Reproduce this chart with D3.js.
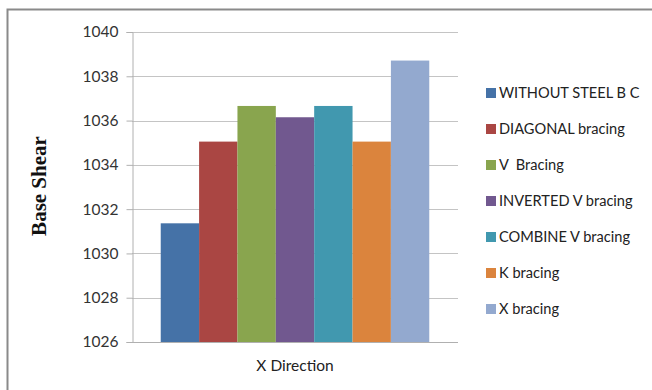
<!DOCTYPE html>
<html>
<head>
<meta charset="utf-8">
<script src="https://cdn.jsdelivr.net/npm/d3@7"></script>
<style>
  html, body { margin: 0; padding: 0; background: #fff; }
  svg { display: block; }
</style>
</head>
<body>
<svg id="chart" width="652" height="390"></svg>
<script>
// Base shear for each bracing system, X direction
const categories = ["X Direction"];
const seriesNames = [
  "WITHOUT STEEL B C",
  "DIAGONAL bracing",
  "V  Bracing",
  "INVERTED V bracing",
  "COMBINE V bracing",
  "K bracing",
  "X bracing"
];
const seriesValues = [1031.36, 1035.05, 1036.66, 1036.15, 1036.66, 1035.05, 1038.71];
const seriesColors = ["#4572A7", "#AA4643", "#89A54E", "#71588F", "#4198AF", "#DB843D", "#93A9CF"];
const yTicks = [1026, 1028, 1030, 1032, 1034, 1036, 1038, 1040];
const yTitle = "Base Shear";

const svg = d3.select("#chart");

// outer frame of the chart area
svg.append("rect")
  .attr("x", 7.5).attr("y", 9.5)
  .attr("width", 720).attr("height", 420)
  .attr("fill", "#fff")
  .attr("stroke", "#8a8a8a")
  .attr("stroke-width", 2);

const plot = { left: 132, right: 458, top: 32, bottom: 342 };

const y = d3.scaleLinear().domain([1026, 1040]).range([plot.bottom, plot.top]);
const x0 = d3.scaleBand().domain(categories).range([plot.left, plot.right])
  .paddingInner(0).paddingOuter(0.107);
const x1 = d3.scaleBand().domain(seriesNames).range([0, x0.bandwidth()]).padding(0);

// gridlines
svg.append("g")
  .selectAll("line")
  .data(yTicks.filter(t => t !== 1026))
  .join("line")
  .attr("x1", plot.left).attr("x2", plot.right)
  .attr("y1", d => Math.round(y(d)) + 0.5).attr("y2", d => Math.round(y(d)) + 0.5)
  .attr("stroke", "#c4c4c4").attr("stroke-width", 1);

// y axis
const yAxis = d3.axisLeft(y).tickValues(yTicks).tickSize(6).tickPadding(8)
  .tickFormat(d3.format("d"));
const gy = svg.append("g")
  .attr("transform", `translate(${plot.left + 0.5},0)`)
  .call(yAxis);
gy.select(".domain").attr("stroke", "#b0b0b0");
gy.selectAll(".tick line").attr("stroke", "#b0b0b0");
gy.selectAll(".tick text")
  .attr("fill", "#333")
  .style("font-family", "Lato, 'Open Sans', sans-serif")
  .style("font-size", "15.5px");

// bars
const groups = svg.append("g")
  .selectAll("g")
  .data(categories)
  .join("g")
  .attr("transform", d => `translate(${x0(d)},0)`);

groups.selectAll("rect")
  .data(() => seriesNames.map((name, i) => ({ name, value: seriesValues[i], color: seriesColors[i] })))
  .join("rect")
  .attr("x", d => x1(d.name))
  .attr("width", x1.bandwidth())
  .attr("y", d => y(d.value))
  .attr("height", d => y(1026) - y(d.value))
  .attr("fill", d => d.color);

// x axis baseline
svg.append("line")
  .attr("x1", plot.left).attr("x2", plot.right)
  .attr("y1", plot.bottom + 0.5).attr("y2", plot.bottom + 0.5)
  .attr("stroke", "#b0b0b0");

// category label
const xAxis = d3.axisBottom(x0).tickSize(0).tickPadding(18);
const gx = svg.append("g")
  .attr("transform", `translate(0,${plot.bottom})`)
  .call(xAxis);
gx.select(".domain").remove();
gx.selectAll(".tick text")
  .attr("fill", "#222")
  .style("font-family", "Lato, 'Open Sans', sans-serif")
  .style("font-size", "15.5px");

// y axis title
svg.append("text")
  .attr("transform", "translate(46,186) rotate(-90)")
  .attr("text-anchor", "middle")
  .style("font-family", "'Liberation Serif', 'Times New Roman', serif")
  .style("font-weight", "bold")
  .style("font-size", "21px")
  .attr("fill", "#111")
  .text(yTitle);

// legend
const legend = svg.append("g").attr("transform", "translate(486,93)");
const item = legend.selectAll("g")
  .data(seriesNames.map((name, i) => ({ name, color: seriesColors[i] })))
  .join("g")
  .attr("transform", (d, i) => `translate(0,${i * 36})`);
item.append("rect")
  .attr("x", 0).attr("y", -5)
  .attr("width", 10).attr("height", 10)
  .attr("fill", d => d.color);
item.append("text")
  .attr("x", 13).attr("y", 0)
  .attr("dy", "0.35em")
  .attr("fill", "#222")
  .style("font-family", "Lato, 'Open Sans', sans-serif")
  .style("font-size", "14.6px")
  .style("white-space", "pre")
  .text(d => d.name);
</script>
</body>
</html>
